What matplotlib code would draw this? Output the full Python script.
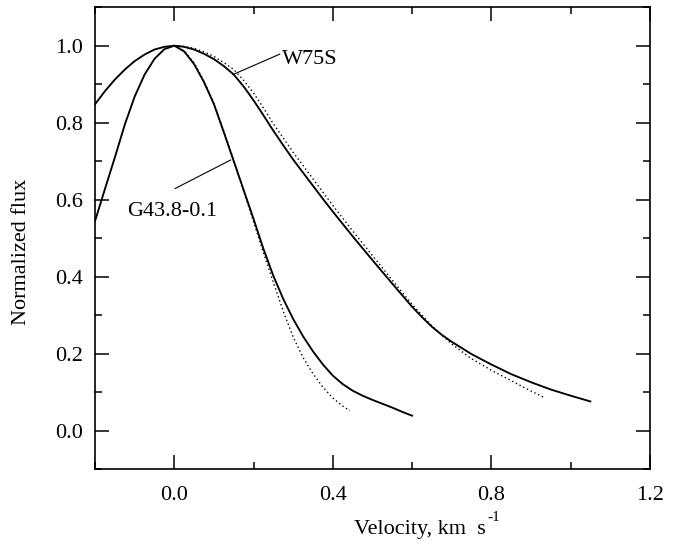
import numpy as np
import matplotlib
matplotlib.use("Agg")
import matplotlib.pyplot as plt
from matplotlib.ticker import MultipleLocator

plt.rcParams["font.family"] = ["Liberation Serif", "DejaVu Serif"]

# W75S: observed profile (solid) and model (dotted)
w75s_x = [-0.2, -0.175, -0.15, -0.125, -0.1, -0.075, -0.05, -0.025, 0.0, 0.025, 0.05,
          0.075, 0.1, 0.125, 0.15, 0.175, 0.2, 0.225, 0.25, 0.275, 0.3, 0.325, 0.35,
          0.375, 0.4, 0.45, 0.5, 0.55, 0.6, 0.625, 0.65, 0.675, 0.7, 0.75, 0.8, 0.85,
          0.9, 0.95, 1.0, 1.05]
w75s_y = [0.848, 0.882, 0.912, 0.938, 0.96, 0.977, 0.99, 0.997, 1.0, 0.997, 0.99,
          0.979, 0.965, 0.947, 0.925, 0.894, 0.858, 0.819, 0.779, 0.741, 0.704, 0.67, 0.636,
          0.602, 0.569, 0.505, 0.443, 0.382, 0.322, 0.295, 0.27, 0.249, 0.231, 0.199, 0.172,
          0.147, 0.126, 0.107, 0.091, 0.076]
w75s_fit_x = [0.0, 0.025, 0.05, 0.075, 0.1, 0.125, 0.15, 0.175, 0.2, 0.225, 0.25, 0.275,
              0.3, 0.35, 0.4, 0.45, 0.5, 0.55, 0.6, 0.65, 0.7, 0.75, 0.8, 0.85, 0.9, 0.932]
w75s_fit_y = [1.0, 0.998, 0.993, 0.984, 0.972, 0.956, 0.938, 0.91, 0.877, 0.838, 0.797, 0.76,
              0.723, 0.654, 0.585, 0.519, 0.455, 0.391, 0.328, 0.272, 0.225, 0.187, 0.157,
              0.13, 0.103, 0.087]

# G43.8-0.1: observed profile (solid) and model (dotted)
g43_x = [-0.2, -0.175, -0.15, -0.125, -0.1, -0.075, -0.05, -0.025, 0.0, 0.025, 0.05,
         0.075, 0.1, 0.125, 0.15, 0.175, 0.2, 0.225, 0.25, 0.275, 0.3, 0.325, 0.35,
         0.375, 0.4, 0.425, 0.45, 0.475, 0.5, 0.525, 0.55, 0.575, 0.6]
g43_y = [0.545, 0.628, 0.71, 0.795, 0.868, 0.925, 0.966, 0.991, 1.0, 0.985, 0.952,
         0.905, 0.848, 0.775, 0.70, 0.625, 0.55, 0.472, 0.402, 0.342, 0.29, 0.245, 0.206,
         0.172, 0.143, 0.121, 0.104, 0.091, 0.08, 0.07, 0.06, 0.049, 0.039]
g43_fit_x = [0.0, 0.025, 0.05, 0.075, 0.1, 0.125, 0.15, 0.175, 0.2, 0.225, 0.25, 0.275,
             0.3, 0.325, 0.35, 0.375, 0.4, 0.425, 0.443]
g43_fit_y = [1.0, 0.986, 0.955, 0.908, 0.85, 0.777, 0.702, 0.622, 0.543, 0.462, 0.385, 0.31,
             0.243, 0.19, 0.148, 0.113, 0.085, 0.064, 0.052]

fig = plt.figure(figsize=(6.84, 5.52), dpi=100)
ax = fig.add_axes([0.139, 0.150, 0.811, 0.837])

ax.plot(w75s_x, w75s_y, "-", color="black", lw=1.35)
ax.plot(w75s_fit_x, w75s_fit_y, color="black", lw=1.0, linestyle=(0, (1, 2)))
ax.plot(g43_x, g43_y, "-", color="black", lw=1.35)
ax.plot(g43_fit_x, g43_fit_y, color="black", lw=1.0, linestyle=(0, (1, 2)))

# labels with pointer lines
ax.plot([0.148, 0.266], [0.925, 0.978], color="black", lw=0.8)
ax.text(0.271, 0.952, "W75S", fontsize=16, va="baseline", ha="left")
ax.plot([0.002, 0.142], [0.629, 0.703], color="black", lw=0.8)
ax.text(-0.119, 0.558, "G43.8-0.1", fontsize=16, va="baseline", ha="left")

ax.set_xlim(-0.2, 1.2)
ax.set_ylim(-0.1, 1.1)
ax.xaxis.set_major_locator(MultipleLocator(0.4))
ax.xaxis.set_minor_locator(MultipleLocator(0.2))
ax.yaxis.set_major_locator(MultipleLocator(0.2))
ax.yaxis.set_minor_locator(MultipleLocator(0.1))
ax.xaxis.set_major_formatter(plt.FormatStrFormatter("%.1f"))
ax.yaxis.set_major_formatter(plt.FormatStrFormatter("%.1f"))

ax.tick_params(which="both", direction="in", top=True, right=True, width=1.1,
               labelsize=16)
ax.tick_params(axis="x", pad=12)
ax.tick_params(axis="y", pad=9)
ax.tick_params(which="major", length=10)
ax.tick_params(which="minor", length=5)
for s in ax.spines.values():
    s.set_linewidth(1.2)

# axis titles placed like the original (x title sits right of centre)
fig.text(0.032, 0.543, "Normalized flux", fontsize=16, rotation=90,
         ha="center", va="center")
xl = fig.text(354 / 684, (552 - 534) / 552, "Velocity, km  s", fontsize=16,
              ha="left", va="baseline")
fig.canvas.draw()
bb = xl.get_window_extent()
fig.text(bb.x1 / 684 + 0.002, (552 - 521) / 552, "-1", fontsize=11,
         ha="left", va="baseline")

fig.savefig("out.png", dpi=100)
